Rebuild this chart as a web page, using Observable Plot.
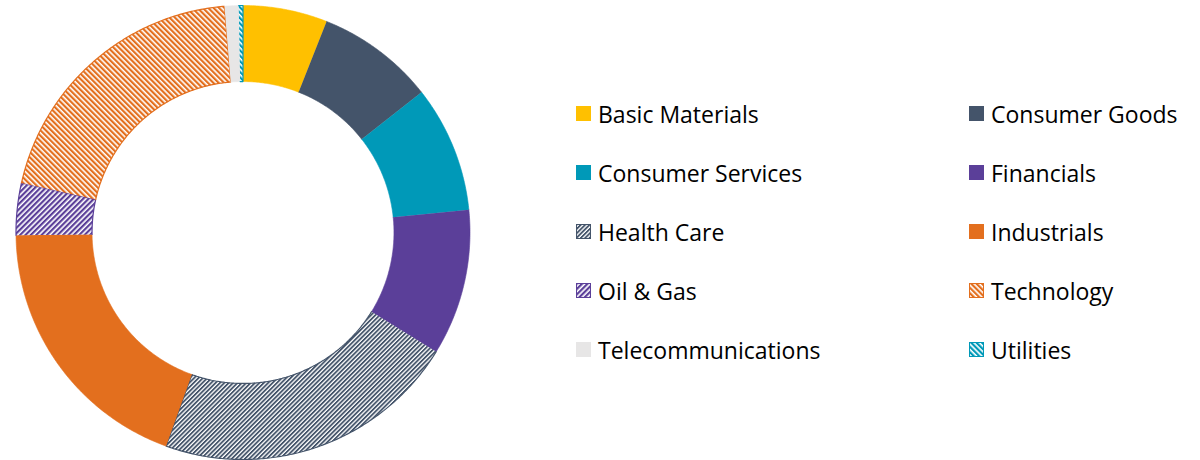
<!DOCTYPE html>
<html><head><meta charset="utf-8">
<script src="https://cdn.jsdelivr.net/npm/d3@7"></script>
<script src="https://cdn.jsdelivr.net/npm/@observablehq/plot@0.6"></script>
<style>
body{margin:0;background:#fff;width:1200px;height:460px;overflow:hidden;position:relative;font-family:"Open Sans",Lato,sans-serif;}
#chart{position:absolute;left:0;top:0;}
.item{position:absolute;height:30px;display:flex;align-items:center;font-size:23px;color:#000;white-space:nowrap;}
.item svg{margin-right:7px;}
</style></head><body>
<svg width="0" height="0" style="position:absolute">
<defs>
<pattern id="pHC" patternUnits="userSpaceOnUse" width="3.1" height="3.1" patternTransform="rotate(45)">
<rect width="3.1" height="3.1" fill="#fff"/><rect width="1.8" height="3.1" fill="#44546A"/></pattern>
<pattern id="pOil" patternUnits="userSpaceOnUse" width="3.8" height="3.8" patternTransform="rotate(45)">
<rect width="3.8" height="3.8" fill="#fff"/><rect width="2.2" height="3.8" fill="#5B3F99"/></pattern>
<pattern id="pTech" patternUnits="userSpaceOnUse" width="3.8" height="3.8" patternTransform="rotate(-45)">
<rect width="3.8" height="3.8" fill="#fff"/><rect width="2.2" height="3.8" fill="#E36F1E"/></pattern>
<pattern id="pUtil" patternUnits="userSpaceOnUse" width="3.8" height="3.8" patternTransform="rotate(-45)">
<rect width="3.8" height="3.8" fill="#fff"/><rect width="2.2" height="3.8" fill="#0099B8"/></pattern>
</defs></svg>
<div id="chart"></div>
<div id="legend"></div>
<script>
// Data
const sectors = ["Basic Materials","Consumer Goods","Consumer Services","Financials","Health Care","Industrials","Oil & Gas","Technology","Telecommunications","Utilities"];
const shares = [6.0, 8.4, 9.0, 10.4, 21.7, 19.3, 3.7, 20.2, 1.0, 0.3];
// Styles
const fills = ["#FFC000","#44546A","#0099B8","#5B3F99","url(#pHC)","#E36F1E","url(#pOil)","url(#pTech)","#E7E6E6","url(#pUtil)"];
const strokes = ["#FFC000","#44546A","#0099B8","#5B3F99","#44546A","#E36F1E","#5B3F99","#E36F1E","#E7E6E6","#0099B8"];
const innerRatio = 0.665;

const pie = d3.pie().sort(null).value(d => d.share).startAngle(0).endAngle(2 * Math.PI);
const data = sectors.map((s, i) => ({sector: s, share: shares[i], i}));
const arcs = pie(data);

function ringPolygon(a) {
  const pts = [];
  const n = Math.max(2, Math.ceil((a.endAngle - a.startAngle) / (Math.PI / 360)));
  for (let k = 0; k <= n; k++) {
    const t = a.startAngle + (a.endAngle - a.startAngle) * k / n;
    pts.push({x: Math.sin(t), y: Math.cos(t), sector: a.data.sector});
  }
  for (let k = n; k >= 0; k--) {
    const t = a.startAngle + (a.endAngle - a.startAngle) * k / n;
    pts.push({x: innerRatio * Math.sin(t), y: innerRatio * Math.cos(t), sector: a.data.sector});
  }
  return pts;
}

const marks = arcs.map(a => Plot.line(ringPolygon(a), {
  x: "x", y: "y",
  fill: fills[a.data.i],
  stroke: strokes[a.data.i],
  strokeWidth: fills[a.data.i].startsWith("url") ? 1.2 : 0.6,
  strokeLinejoin: "miter"
}));

const chart = Plot.plot({
  width: 485, height: 460,
  marginLeft: 15.5, marginRight: 15.5, marginTop: 5, marginBottom: 1,
  x: {domain: [-1, 1], axis: null},
  y: {domain: [-1, 1], axis: null},
  style: {background: "transparent"},
  marks
});
document.getElementById("chart").appendChild(chart);

// Legend
const legend = document.getElementById("legend");
const colX = [576, 969];
const rowY = [114.5, 173.5, 232.5, 291.5, 350.5];
sectors.forEach((s, i) => {
  const div = document.createElement("div");
  div.className = "item";
  div.style.left = colX[i % 2] + "px";
  div.style.top = (rowY[Math.floor(i / 2)] - 16) + "px";
  const hatched = fills[i].startsWith("url");
  div.innerHTML = `<svg width="15" height="15"><rect x="${hatched?0.5:0}" y="${hatched?0.5:0}" width="${hatched?14:15}" height="${hatched?14:15}" fill="${fills[i]}" stroke="${hatched ? strokes[i] : "none"}" stroke-width="1"/></svg><span>${s.replace("&","&amp;")}</span>`;
  legend.appendChild(div);
});
</script>
</body></html>
